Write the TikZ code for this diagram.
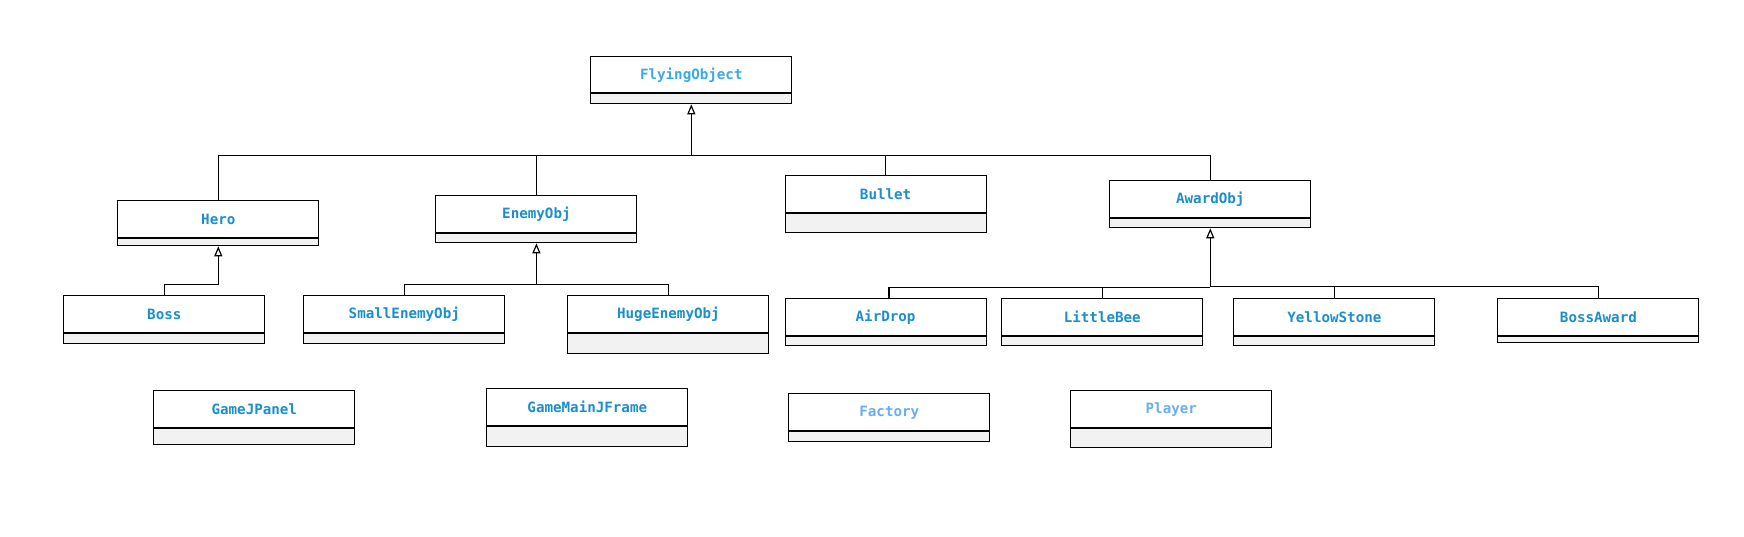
\documentclass[tikz,border=0pt]{standalone}
\usepackage{fontspec}
\setmonofont{DejaVu Sans Mono}
\usetikzlibrary{arrows.meta}
\definecolor{clsblue}{RGB}{26,143,204}
\definecolor{flyblue}{RGB}{58,170,228}
\definecolor{liteblue}{RGB}{104,174,240}
\definecolor{boxgray}{RGB}{242,242,242}
\tikzset{
  clstop/.style={draw=black, line width=1pt, fill=white, minimum height=37pt,
    minimum width=201pt, inner sep=0pt, anchor=north west,
    font=\ttfamily\bfseries\fontsize{14.2}{16}\selectfont, text=clsblue},
  clsbot/.style={draw=black, line width=1pt, fill=boxgray, minimum width=201pt,
    inner sep=0pt, anchor=north},
  link/.style={draw=black, line width=1.2pt},
  inh/.style={link, -{Triangle[open, length=10pt, width=8pt]}}
}
\begin{document}
\begin{tikzpicture}[x=1pt, y=-1pt]
\useasboundingbox (0,0) rectangle (1744,536);
% classes
\node[clstop, text=flyblue, minimum height=36pt] (fly) at (590.3,56.3) {FlyingObject};
\node[clsbot, minimum height=10pt] (flyB) at (fly.south) {};

\node[clstop] (hero) at (117.3,200.3) {Hero};
\node[clsbot, minimum height=7pt] (heroB) at (hero.south) {};

\node[clstop] (enemy) at (435.4,195.3) {EnemyObj};
\node[clsbot, minimum height=9pt] (enemyB) at (enemy.south) {};

\node[clstop] (bullet) at (784.6,175.3) {Bullet};
\node[clsbot, minimum height=19pt] (bulletB) at (bullet.south) {};

\node[clstop] (award) at (1109.3,180.3) {AwardObj};
\node[clsbot, minimum height=9pt] (awardB) at (award.south) {};

\node[clstop] (boss) at (63.3,295.3) {Boss};
\node[clsbot, minimum height=10pt] (bossB) at (boss.south) {};

\node[clstop] (small) at (303.3,295.3) {SmallEnemyObj};
\node[clsbot, minimum height=10pt] (smallB) at (small.south) {};

\node[clstop] (huge) at (567.4,295.3) {HugeEnemyObj};
\node[clsbot, minimum height=20pt] (hugeB) at (huge.south) {};

\node[clstop] (airdrop) at (784.6,298.3) {AirDrop};
\node[clsbot, minimum height=9pt] (airdropB) at (airdrop.south) {};

\node[clstop] (bee) at (1001.3,298.3) {LittleBee};
\node[clsbot, minimum height=9pt] (beeB) at (bee.south) {};

\node[clstop] (stone) at (1233.4,298.3) {YellowStone};
\node[clsbot, minimum height=9pt] (stoneB) at (stone.south) {};

\node[clstop] (bossaward) at (1497.4,298.3) {BossAward};
\node[clsbot, minimum height=6pt] (bossawardB) at (bossaward.south) {};

\node[clstop] (panel) at (153.3,390.3) {GameJPanel};
\node[clsbot, minimum height=15.7pt] (panelB) at (panel.south) {};

\node[clstop] (frame) at (486.3,388.3) {GameMainJFrame};
\node[clsbot, minimum height=20pt] (frameB) at (frame.south) {};

\node[clstop, text=liteblue] (factory) at (788.3,393.3) {Factory};
\node[clsbot, minimum height=10pt] (factoryB) at (factory.south) {};

\node[clstop, text=liteblue] (player) at (1070.3,390.3) {Player};
\node[clsbot, minimum height=19pt] (playerB) at (player.south) {};

% bus levels
\coordinate (busA) at (0,155.3);
\coordinate (busB) at (0,284.3);
\coordinate (busC) at (0,287.3);
\coordinate (busD) at (0,286.3);

% FlyingObject hierarchy
\draw[inh] (flyB.south |- busA) -- (flyB.south);
\draw[link] (hero.north) |- (flyB.south |- busA);
\draw[link] (enemy.north) |- (flyB.south |- busA);
\draw[link] (bullet.north) |- (flyB.south |- busA);
\draw[link] (award.north) |- (flyB.south |- busA);

% Hero hierarchy
\draw[inh] (boss.north) |- (heroB.south |- busB) -- (heroB.south);

% EnemyObj hierarchy
\draw[inh] (enemyB.south |- busB) -- (enemyB.south);
\draw[link] (small.north) |- (enemyB.south |- busB);
\draw[link] (huge.north) |- (enemyB.south |- busB);

% AwardObj hierarchy
\draw[inh] (awardB.south |- busD) -- (awardB.south);
\draw[link] ([xshift=3.3pt]airdrop.north) |- (awardB.south |- busC);
\draw[link] (bee.north) |- (awardB.south |- busC);
\draw[link] (stone.north) |- (awardB.south |- busD);
\draw[link] (bossaward.north) |- (awardB.south |- busD);
\end{tikzpicture}
\end{document}
